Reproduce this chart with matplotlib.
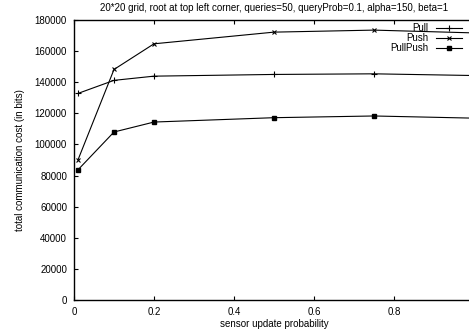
import numpy as np
import matplotlib
matplotlib.use('Agg')
import matplotlib.pyplot as plt
from matplotlib.ticker import FormatStrFormatter, MultipleLocator

plt.rcParams['font.family'] = ['Liberation Sans', 'DejaVu Sans']

# values
update_prob = [0.01, 0.1, 0.2, 0.5, 0.75, 1.0]
pull = [132800, 141200, 143900, 145000, 145400, 144300]
push = [90100, 148200, 164700, 172200, 173500, 171700]
pullpush = [83700, 108000, 114400, 117200, 118300, 116900]
x_ticks = [0, 0.2, 0.4, 0.6, 0.8]

fig = plt.figure(figsize=(4.69, 3.33), dpi=100)
W, H = 469.0, 333.0
# axes runs past the right edge like the original (x=1 sits outside the image)
ax = fig.add_axes([74 / W, 33 / H, 400 / W, 280 / H])

ax.plot(update_prob, pull, color='black', lw=0.8, marker='+', ms=4, mew=0.8, label='Pull')
ax.plot(update_prob, push, color='black', lw=0.8, marker='x', ms=3.5, mew=0.8, label='Push')
ax.plot(update_prob, pullpush, color='black', lw=0.8, marker='s', ms=2.8, label='PullPush')

ax.set_xlim(0, 1)
ax.set_ylim(0, 180000)
ax.set_xticks(x_ticks)
ax.yaxis.set_major_locator(MultipleLocator(20000))
ax.xaxis.set_major_formatter(FormatStrFormatter('%g'))
ax.tick_params(direction='in', top=True, right=True, length=3, width=0.8,
               labelsize=7, pad=5, colors='black')
for s in ax.spines.values():
    s.set_linewidth(1.0)

# legend: text on the left, sample on the right, no frame
leg = ax.legend(loc='upper right', bbox_to_anchor=(462 / W, 1 - 23 / H),
                bbox_transform=fig.transFigure, frameon=False, markerfirst=False,
                fontsize=7, handlelength=2.7, handletextpad=0.8,
                labelspacing=0.0, borderpad=0, borderaxespad=0)

fig.text(274 / W, 1 - 8 / H,
         '20*20 grid, root at top left corner, queries=50, queryProb=0.1, alpha=150, beta=1',
         ha='center', va='center', fontsize=7)
fig.text(274 / W, 1 - 324 / H, 'sensor update probability',
         ha='center', va='center', fontsize=7)
fig.text(20 / W, 1 - 160 / H, 'total communication cost (in bits)',
         ha='center', va='center', rotation=90, fontsize=7)

fig.savefig('out.png', dpi=100)
